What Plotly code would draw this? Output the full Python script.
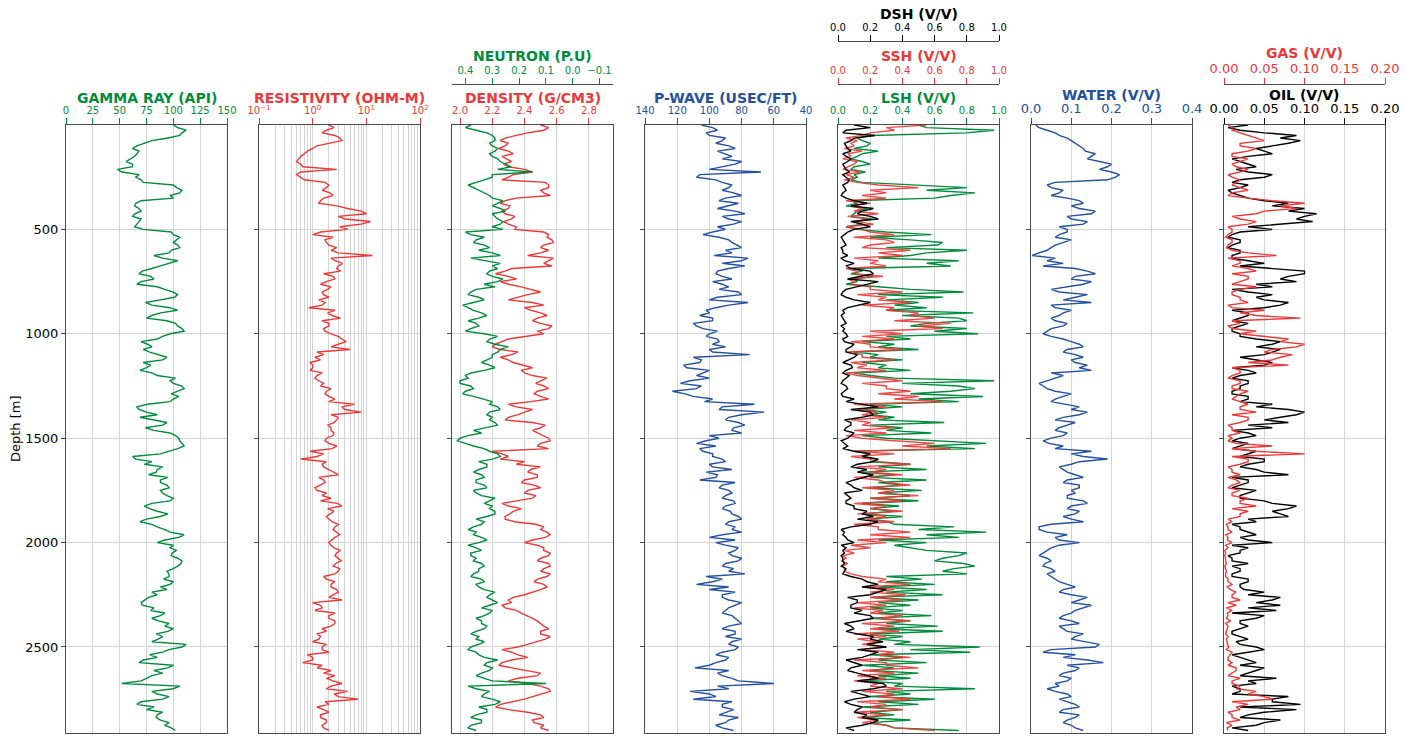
import plotly.graph_objects as go

# ---------------- data ----------------
DEPTH = list(range(0, 2901, 25))                 # main 25 m samples
DEPTH_MID = [d + 12.5 for d in DEPTH[:-1]]       # half-step samples

GR = [100, 112, 106, 80, 66, 68, 64, 56, 62, 52, 65, 72, 103, 106, 100, 65, 68, 64, 70, 66, 72,
      100, 103, 104, 98, 82, 104, 88, 71, 79, 70, 85, 100, 101, 74, 97, 88, 75, 102, 108, 97,
      85, 76, 72, 85, 90, 79, 69, 85, 97, 108, 104, 105, 97, 66, 75, 69, 94, 74, 97, 105,
      108, 104, 88, 65, 73, 85, 77, 88, 94, 88, 94, 97, 73, 85, 88, 69, 85, 97, 105, 85,
      97, 99, 104, 107, 100, 96, 91, 97, 94, 85, 74, 71, 79, 88, 86, 92, 95, 90, 80, 108,
      90, 85, 68, 95, 90, 75, 52, 100, 85, 90, 66, 75, 85, 88, 92, 102]
GR_MID = [104, 108, 95, 72, 62, 66, 60, 62, 48, 68, 70, 100, 108, 97, 70, 64, 70, 62, 68, 64,
          98, 106, 100, 106, 96, 90, 97, 80, 68, 82, 66, 92, 104, 88, 80, 104, 80, 94, 104, 110,
          90, 70, 80, 78, 94, 72, 75, 80, 102, 100, 110, 98, 100, 76, 68, 85, 80, 90, 82, 102,
          106, 110, 96, 62, 80, 90, 84, 95, 88, 96, 90, 100, 80, 78, 95, 75, 80, 92, 110, 92,
          100, 103, 98, 108, 104, 94, 96, 100, 88, 80, 77, 70, 82, 92, 80, 96, 100, 84, 86, 112,
          96, 78, 72, 100, 82, 80, 70, 106, 80, 96, 70, 82, 90, 84, 96, 98]

RES = [2.0, 1.8, 2.6, 3.5, 1.2, 0.8, 0.6, 0.5, 0.65, 0.6, 0.6, 1.7, 1.8, 2.1, 1.6, 1.3, 4.5, 10, 4, 8, 4.5,
       1.0, 1.7, 2.0, 2.2, 13, 2.6, 3.0, 3.3, 2.4, 1.8, 2.2, 1.5, 2.0, 1.7, 0.85, 1.9, 3.3, 2.0, 1.6, 2.2,
       3.5, 3.0, 5.0, 1.6, 1.4, 1.0, 0.9, 1.2, 1.3, 1.4, 1.8, 2.0, 2.0, 3.5, 8.0, 3.0, 2.5, 2.2, 2.5, 1.8,
       2.0, 2.3, 1.6, 0.6, 1.5, 2.0, 3.0, 1.6, 1.4, 1.2, 1.5, 1.4, 3.5, 2.5, 1.8, 2.3, 2.6, 2.8, 2.6, 2.0,
       2.5, 2.8, 3.0, 2.7, 3.2, 2.6, 1.8, 2.2, 2.8, 2.4, 3.5, 1.4, 1.1, 2.0, 2.6, 2.2, 1.8, 1.4, 1.0, 1.5,
       2.0, 1.0, 0.65, 1.2, 1.6, 1.8, 3.5, 1.8, 2.5, 7.0, 2.0, 1.6, 1.4, 1.8, 1.5, 2.0]
RES_MID = [2.5, 1.5, 3.2, 2.0, 1.0, 0.7, 0.55, 0.6, 2.8, 0.5, 0.7, 2.0, 1.5, 2.4, 1.4, 2.8, 8, 3, 12, 3.2,
           1.4, 2.4, 1.8, 2.8, 3.0, 2.2, 3.6, 2.8, 1.6, 2.6, 1.4, 1.9, 1.6, 1.3, 1.5, 2.6, 2.3, 1.5, 2.0, 1.7,
           3.0, 4.2, 2.2, 1.2, 1.1, 0.9, 1.0, 1.5, 1.1, 1.6, 2.2, 1.7, 2.6, 6.0, 4.0, 2.2, 2.8, 1.9, 2.2, 2.4,
           1.7, 2.8, 0.9, 1.2, 1.8, 1.6, 2.4, 1.3, 1.7, 1.1, 1.8, 2.2, 2.9, 1.9, 2.1, 2.0, 3.0, 2.4, 3.2, 2.3,
           2.2, 3.3, 2.6, 3.4, 2.4, 3.0, 1.6, 2.6, 2.2, 3.0, 2.0, 1.0, 1.5, 2.6, 2.0, 2.6, 1.5, 1.2, 1.3, 1.8,
           1.5, 0.8, 1.0, 1.5, 2.2, 2.6, 2.4, 2.2, 4.5, 3.0, 1.7, 1.2, 2.0, 1.4, 1.8, 1.6]

NPHI = [0.38, 0.36, 0.30, 0.29, 0.30, 0.29, 0.30, 0.27, 0.23, 0.15, 0.30, 0.36, 0.37, 0.33, 0.30, 0.28, 0.27, 0.30, 0.28, 0.27, 0.26,
        0.38, 0.36, 0.33, 0.35, 0.27, 0.33, 0.30, 0.31, 0.30, 0.28, 0.29, 0.38, 0.35, 0.37, 0.39, 0.34, 0.35, 0.36, 0.38, 0.33,
        0.31, 0.29, 0.27, 0.30, 0.32, 0.31, 0.33, 0.40, 0.42, 0.38, 0.40, 0.37, 0.30, 0.28, 0.31, 0.30, 0.29, 0.32, 0.34, 0.42,
        0.40, 0.33, 0.28, 0.30, 0.32, 0.35, 0.34, 0.36, 0.33, 0.37, 0.34, 0.31, 0.30, 0.29, 0.32, 0.33, 0.37, 0.36, 0.34, 0.35,
        0.36, 0.38, 0.36, 0.34, 0.35, 0.37, 0.34, 0.36, 0.33, 0.31, 0.30, 0.31, 0.30, 0.33, 0.34, 0.32, 0.36, 0.35, 0.33, 0.38,
        0.36, 0.33, 0.32, 0.30, 0.34, 0.33, 0.10, 0.36, 0.33, 0.30, 0.29, 0.32, 0.36, 0.34, 0.38, 0.36]
NPHI_MID = [0.40, 0.32, 0.29, 0.31, 0.28, 0.31, 0.28, 0.25, 0.28, 0.30, 0.33, 0.39, 0.35, 0.31, 0.26, 0.30, 0.25, 0.29, 0.26, 0.30,
            0.40, 0.33, 0.37, 0.31, 0.30, 0.38, 0.27, 0.28, 0.32, 0.26, 0.33, 0.36, 0.39, 0.33, 0.41, 0.37, 0.32, 0.39, 0.35, 0.40,
            0.28, 0.32, 0.24, 0.28, 0.30, 0.34, 0.29, 0.38, 0.39, 0.42, 0.37, 0.41, 0.33, 0.31, 0.27, 0.32, 0.31, 0.28, 0.37, 0.39,
            0.43, 0.37, 0.31, 0.27, 0.35, 0.32, 0.37, 0.33, 0.36, 0.32, 0.36, 0.29, 0.33, 0.31, 0.29, 0.36, 0.34, 0.39, 0.37, 0.32,
            0.39, 0.34, 0.38, 0.37, 0.33, 0.35, 0.38, 0.33, 0.35, 0.29, 0.32, 0.28, 0.34, 0.31, 0.36, 0.34, 0.33, 0.38, 0.36, 0.35,
            0.39, 0.35, 0.28, 0.33, 0.31, 0.36, 0.30, 0.39, 0.31, 0.34, 0.27, 0.35, 0.32, 0.38, 0.34, 0.39]

RHOB = [2.50, 2.52, 2.35, 2.25, 2.28, 2.30, 2.26, 2.32, 2.30, 2.45, 2.30, 2.53, 2.55, 2.52, 2.35, 2.25, 2.30, 2.28, 2.32, 2.30, 2.34,
        2.55, 2.57, 2.52, 2.55, 2.42, 2.55, 2.57, 2.28, 2.30, 2.25, 2.38, 2.50, 2.35, 2.45, 2.40, 2.50, 2.48, 2.50, 2.55, 2.52,
        2.30, 2.22, 2.25, 2.32, 2.30, 2.40, 2.38, 2.45, 2.50, 2.52, 2.48, 2.50, 2.44, 2.35, 2.40, 2.30, 2.45, 2.50, 2.48, 2.55,
        2.50, 2.55, 2.26, 2.25, 2.35, 2.44, 2.48, 2.40, 2.46, 2.42, 2.47, 2.36, 2.30, 2.33, 2.28, 2.34, 2.52, 2.54, 2.53, 2.40,
        2.52, 2.56, 2.50, 2.55, 2.52, 2.56, 2.48, 2.52, 2.50, 2.40, 2.30, 2.26, 2.35, 2.42, 2.48, 2.52, 2.50, 2.56, 2.48, 2.36,
        2.32, 2.42, 2.26, 2.32, 2.50, 2.36, 2.42, 2.55, 2.50, 2.40, 2.25, 2.30, 2.50, 2.45, 2.52, 2.55]
RHOB_MID = [2.55, 2.42, 2.28, 2.30, 2.24, 2.33, 2.29, 2.27, 2.40, 2.33, 2.26, 2.55, 2.50, 2.56, 2.28, 2.31, 2.26, 2.34, 2.27, 2.35,
            2.52, 2.54, 2.58, 2.50, 2.50, 2.58, 2.52, 2.32, 2.22, 2.35, 2.30, 2.45, 2.42, 2.30, 2.52, 2.44, 2.54, 2.45, 2.57, 2.48,
            2.40, 2.26, 2.20, 2.36, 2.25, 2.33, 2.45, 2.40, 2.54, 2.47, 2.55, 2.46, 2.55, 2.30, 2.45, 2.36, 2.28, 2.53, 2.45, 2.52,
            2.56, 2.48, 2.20, 2.30, 2.40, 2.50, 2.42, 2.48, 2.38, 2.50, 2.40, 2.45, 2.26, 2.38, 2.31, 2.28, 2.47, 2.50, 2.56, 2.45,
            2.48, 2.52, 2.55, 2.48, 2.56, 2.50, 2.54, 2.46, 2.54, 2.45, 2.33, 2.32, 2.28, 2.38, 2.45, 2.50, 2.55, 2.50, 2.53, 2.42,
            2.26, 2.36, 2.32, 2.24, 2.40, 2.48, 2.30, 2.50, 2.56, 2.45, 2.32, 2.22, 2.42, 2.52, 2.46, 2.50]

DT = [105, 95, 100, 92, 88, 95, 86, 80, 92, 68, 108, 92, 88, 85, 90, 82, 95, 78, 88, 85, 90,
      104, 88, 83, 90, 97, 80, 78, 95, 92, 98, 88, 82, 95, 76, 96, 100, 98, 110, 104, 100,
      95, 98, 100, 75, 105, 116, 100, 108, 112, 105, 123, 110, 103, 92, 66, 88, 82, 85, 80, 94,
      108, 106, 98, 92, 100, 86, 95, 106, 92, 88, 90, 85, 90, 87, 82, 88, 84, 80, 100, 96,
      82, 88, 80, 90, 85, 78, 92, 108, 100, 92, 88, 84, 90, 86, 82, 88, 84, 90, 86, 82,
      92, 88, 96, 109, 95, 86, 60, 88, 100, 110, 92, 85, 94, 88, 96, 85]
DT_MID = [98, 102, 90, 96, 84, 90, 92, 84, 100, 106, 96, 86, 92, 80, 94, 88, 84, 92, 80, 95,
          98, 94, 86, 80, 86, 76, 92, 88, 96, 86, 92, 94, 80, 100, 88, 102, 106, 98, 108, 95,
          102, 94, 90, 98, 110, 106, 114, 104, 100, 118, 108, 115, 98, 72, 94, 80, 90, 78, 86, 100,
          102, 96, 104, 98, 90, 98, 102, 96, 84, 94, 86, 92, 84, 92, 86, 80, 90, 86, 92, 84,
          90, 84, 86, 82, 92, 88, 102, 98, 88, 84, 92, 80, 88, 92, 84, 80, 92, 84, 80, 88,
          84, 96, 90, 100, 88, 92, 82, 95, 112, 96, 86, 92, 90, 82, 90, 92]

WATER = [0.012, 0.04, 0.07, 0.10, 0.12, 0.135, 0.15, 0.17, 0.19, 0.20, 0.21, 0.06, 0.05, 0.07, 0.09, 0.13, 0.12, 0.15, 0.10, 0.13, 0.09,
         0.07, 0.10, 0.06, 0.04, 0.003, 0.04, 0.03, 0.14, 0.11, 0.15, 0.09, 0.07, 0.11, 0.15, 0.06, 0.08, 0.05, 0.09, 0.05, 0.03,
         0.08, 0.12, 0.09, 0.11, 0.10, 0.14, 0.15, 0.08, 0.04, 0.03, 0.06, 0.08, 0.05, 0.12, 0.14, 0.08, 0.11, 0.07, 0.09, 0.05,
         0.045, 0.06, 0.10, 0.19, 0.10, 0.08, 0.11, 0.09, 0.12, 0.10, 0.09, 0.13, 0.10, 0.12, 0.08, 0.13, 0.02, 0.04, 0.06, 0.12,
         0.05, 0.03, 0.04, 0.035, 0.05, 0.04, 0.06, 0.09, 0.08, 0.10, 0.12, 0.15, 0.11, 0.08, 0.10, 0.07, 0.09, 0.11, 0.14, 0.16,
         0.03, 0.08, 0.18, 0.12, 0.08, 0.10, 0.06, 0.04, 0.09, 0.07, 0.11, 0.08, 0.12, 0.09, 0.10, 0.13]
WATER_MID = [0.02, 0.06, 0.09, 0.11, 0.13, 0.16, 0.14, 0.20, 0.17, 0.22, 0.19, 0.04, 0.08, 0.05, 0.12, 0.10, 0.16, 0.09, 0.14, 0.07,
             0.09, 0.06, 0.08, 0.05, 0.02, 0.06, 0.08, 0.11, 0.16, 0.10, 0.13, 0.05, 0.14, 0.08, 0.05, 0.10, 0.07, 0.06, 0.08, 0.04,
             0.05, 0.10, 0.13, 0.08, 0.13, 0.11, 0.12, 0.05, 0.06, 0.02, 0.04, 0.10, 0.06, 0.09, 0.10, 0.12, 0.06, 0.09, 0.06, 0.08,
             0.03, 0.08, 0.15, 0.13, 0.12, 0.07, 0.09, 0.13, 0.08, 0.12, 0.11, 0.09, 0.14, 0.09, 0.11, 0.10, 0.05, 0.02, 0.09, 0.07,
             0.07, 0.04, 0.02, 0.05, 0.03, 0.06, 0.05, 0.07, 0.11, 0.07, 0.14, 0.10, 0.13, 0.10, 0.07, 0.12, 0.08, 0.13, 0.10, 0.17,
             0.05, 0.11, 0.14, 0.09, 0.11, 0.07, 0.09, 0.07, 0.06, 0.10, 0.09, 0.12, 0.07, 0.11, 0.08, 0.11]

LSH = [0.50, 0.97, 0.20, 0.15, 0.18, 0.25, 0.12, 0.15, 0.10, 0.17, 0.12, 0.15, 0.80, 0.85, 0.60, 0.12, 0.18, 0.10, 0.22, 0.15, 0.12,
       0.58, 0.45, 0.62, 0.80, 0.45, 0.75, 0.70, 0.15, 0.22, 0.12, 0.25, 0.78, 0.65, 0.50, 0.55, 0.84, 0.75, 0.55, 0.80, 0.87,
       0.45, 0.35, 0.50, 0.25, 0.40, 0.30, 0.45, 0.20, 0.97, 0.75, 0.70, 0.90, 0.75, 0.40, 0.30, 0.35, 0.66, 0.40, 0.58, 0.30,
       0.92, 0.85, 0.20, 0.25, 0.45, 0.55, 0.35, 0.55, 0.40, 0.52, 0.45, 0.50, 0.38, 0.35, 0.40, 0.30, 0.72, 0.92, 0.75, 0.55,
       0.45, 0.80, 0.65, 0.78, 0.72, 0.80, 0.52, 0.60, 0.55, 0.65, 0.50, 0.45, 0.40, 0.58, 0.45, 0.62, 0.65, 0.40, 0.45, 0.88,
       0.82, 0.40, 0.55, 0.35, 0.50, 0.45, 0.40, 0.85, 0.45, 0.60, 0.50, 0.40, 0.35, 0.45, 0.30, 0.75]
LSH_MID = [0.55, 0.80, 0.12, 0.20, 0.10, 0.15, 0.08, 0.20, 0.08, 0.10, 0.08, 0.45, 0.55, 0.70, 0.08, 0.05, 0.12, 0.08, 0.10, 0.05,
           0.30, 0.20, 0.65, 0.30, 0.55, 0.25, 0.55, 0.10, 0.08, 0.10, 0.05, 0.45, 0.25, 0.30, 0.35, 0.30, 0.40, 0.80, 0.45, 0.60,
           0.30, 0.15, 0.25, 0.10, 0.20, 0.15, 0.25, 0.10, 0.35, 0.40, 0.85, 0.45, 0.50, 0.20, 0.15, 0.20, 0.25, 0.20, 0.30, 0.15,
           0.60, 0.55, 0.10, 0.15, 0.20, 0.25, 0.15, 0.20, 0.25, 0.20, 0.25, 0.20, 0.15, 0.20, 0.15, 0.20, 0.35, 0.50, 0.55, 0.25,
           0.35, 0.55, 0.75, 0.60, 0.85, 0.65, 0.30, 0.30, 0.25, 0.30, 0.20, 0.25, 0.20, 0.25, 0.20, 0.30, 0.25, 0.20, 0.25, 0.35,
           0.45, 0.20, 0.25, 0.15, 0.20, 0.25, 0.15, 0.35, 0.30, 0.20, 0.25, 0.15, 0.20, 0.15, 0.20, 0.35]

SSH = [0.55, 0.35, 0.15, 0.12, 0.10, 0.15, 0.08, 0.12, 0.06, 0.14, 0.10, 0.12, 0.50, 0.30, 0.30, 0.20, 0.15, 0.25, 0.18, 0.22, 0.15,
       0.35, 0.30, 0.20, 0.45, 0.40, 0.25, 0.30, 0.12, 0.28, 0.10, 0.20, 0.40, 0.30, 0.45, 0.35, 0.50, 0.60, 0.70, 0.65, 0.40,
       0.35, 0.20, 0.40, 0.15, 0.35, 0.18, 0.30, 0.12, 0.40, 0.30, 0.45, 0.50, 0.65, 0.30, 0.25, 0.30, 0.20, 0.35, 0.30, 0.15,
       0.60, 0.70, 0.35, 0.20, 0.45, 0.30, 0.40, 0.25, 0.45, 0.35, 0.50, 0.40, 0.30, 0.40, 0.30, 0.35, 0.25, 0.45, 0.45, 0.30,
       0.20, 0.10, 0.05, 0.06, 0.04, 0.08, 0.30, 0.45, 0.35, 0.42, 0.40, 0.30, 0.28, 0.40, 0.45, 0.35, 0.38, 0.30, 0.25, 0.30,
       0.35, 0.45, 0.30, 0.50, 0.35, 0.30, 0.25, 0.40, 0.35, 0.45, 0.30, 0.40, 0.30, 0.25, 0.30, 0.60]
SSH_MID = [0.30, 0.20, 0.05, 0.08, 0.04, 0.06, 0.03, 0.10, 0.03, 0.05, 0.04, 0.25, 0.20, 0.15, 0.05, 0.08, 0.10, 0.06, 0.12, 0.05,
           0.20, 0.10, 0.35, 0.15, 0.25, 0.10, 0.20, 0.05, 0.10, 0.06, 0.08, 0.20, 0.12, 0.25, 0.15, 0.30, 0.45, 0.35, 0.50, 0.20,
           0.15, 0.08, 0.20, 0.05, 0.15, 0.08, 0.12, 0.05, 0.25, 0.15, 0.30, 0.25, 0.35, 0.10, 0.12, 0.15, 0.08, 0.15, 0.10, 0.05,
           0.35, 0.40, 0.10, 0.08, 0.25, 0.12, 0.20, 0.10, 0.30, 0.15, 0.25, 0.20, 0.10, 0.20, 0.12, 0.18, 0.10, 0.25, 0.20, 0.12,
           0.08, 0.04, 0.03, 0.02, 0.03, 0.04, 0.15, 0.25, 0.15, 0.20, 0.20, 0.12, 0.10, 0.20, 0.25, 0.15, 0.20, 0.10, 0.12, 0.15,
           0.15, 0.25, 0.10, 0.30, 0.15, 0.12, 0.10, 0.20, 0.15, 0.25, 0.12, 0.20, 0.10, 0.12, 0.15, 0.35]

DSH = [0.10, 0.05, 0.23, 0.08, 0.05, 0.08, 0.05, 0.06, 0.04, 0.07, 0.05, 0.06, 0.04, 0.03, 0.05, 0.18, 0.22, 0.12, 0.25, 0.15, 0.10,
       0.04, 0.03, 0.05, 0.03, 0.06, 0.04, 0.05, 0.20, 0.15, 0.25, 0.12, 0.03, 0.05, 0.20, 0.06, 0.04, 0.03, 0.05, 0.04, 0.05,
       0.03, 0.10, 0.05, 0.12, 0.06, 0.08, 0.05, 0.07, 0.03, 0.05, 0.04, 0.03, 0.05, 0.25, 0.20, 0.15, 0.08, 0.05, 0.10, 0.06,
       0.04, 0.03, 0.20, 0.25, 0.12, 0.18, 0.22, 0.10, 0.08, 0.15, 0.06, 0.05, 0.10, 0.18, 0.22, 0.25, 0.08, 0.04, 0.05, 0.10,
       0.05, 0.04, 0.03, 0.04, 0.05, 0.03, 0.15, 0.25, 0.30, 0.20, 0.12, 0.08, 0.15, 0.20, 0.12, 0.08, 0.05, 0.22, 0.28, 0.30,
       0.25, 0.15, 0.10, 0.08, 0.12, 0.25, 0.28, 0.22, 0.15, 0.10, 0.08, 0.12, 0.18, 0.25, 0.15, 0.10]
DSH_MID = [0.20, 0.03, 0.10, 0.04, 0.06, 0.03, 0.08, 0.03, 0.05, 0.03, 0.07, 0.03, 0.05, 0.02, 0.10, 0.08, 0.15, 0.20, 0.08, 0.20,
           0.06, 0.02, 0.04, 0.02, 0.03, 0.02, 0.10, 0.08, 0.22, 0.06, 0.18, 0.05, 0.02, 0.10, 0.12, 0.03, 0.02, 0.04, 0.02, 0.03,
           0.06, 0.04, 0.08, 0.05, 0.10, 0.03, 0.09, 0.03, 0.05, 0.02, 0.06, 0.02, 0.10, 0.15, 0.08, 0.22, 0.04, 0.08, 0.04, 0.08,
           0.02, 0.06, 0.10, 0.15, 0.22, 0.08, 0.12, 0.15, 0.05, 0.10, 0.04, 0.08, 0.05, 0.10, 0.15, 0.12, 0.20, 0.02, 0.03, 0.06,
           0.02, 0.03, 0.02, 0.03, 0.02, 0.04, 0.08, 0.18, 0.15, 0.25, 0.06, 0.12, 0.08, 0.10, 0.22, 0.04, 0.10, 0.12, 0.20, 0.18,
           0.12, 0.20, 0.05, 0.15, 0.06, 0.18, 0.12, 0.30, 0.08, 0.20, 0.04, 0.15, 0.10, 0.15, 0.22, 0.05]

OIL = [0.03, 0.02, 0.09, 0.095, 0.06, 0.05, 0.03, 0.02, 0.04, 0.03, 0.05, 0.01, 0.02, 0.01, 0.03, 0.08, 0.10, 0.115, 0.09, 0.07, 0.06,
       0.01, 0.02, 0.01, 0.02, 0.01, 0.03, 0.02, 0.10, 0.08, 0.09, 0.06, 0.03, 0.04, 0.08, 0.05, 0.03, 0.02, 0.03, 0.01, 0.02,
       0.04, 0.06, 0.07, 0.05, 0.04, 0.05, 0.03, 0.02, 0.03, 0.02, 0.01, 0.03, 0.02, 0.04, 0.10, 0.07, 0.08, 0.06, 0.03, 0.02,
       0.03, 0.01, 0.03, 0.05, 0.03, 0.04, 0.08, 0.03, 0.02, 0.04, 0.02, 0.05, 0.09, 0.06, 0.08, 0.04, 0.02, 0.03, 0.02, 0.06,
       0.03, 0.02, 0.01, 0.03, 0.02, 0.01, 0.03, 0.02, 0.025, 0.03, 0.06, 0.07, 0.065, 0.05, 0.02, 0.03, 0.01, 0.02, 0.015, 0.04,
       0.03, 0.02, 0.04, 0.05, 0.03, 0.065, 0.04, 0.02, 0.01, 0.06, 0.095, 0.09, 0.03, 0.07, 0.04, 0.03]
OIL_MID = [0.005, 0.05, 0.07, 0.08, 0.04, 0.06, 0.01, 0.03, 0.015, 0.06, 0.02, 0.03, 0.005, 0.02, 0.05, 0.06, 0.08, 0.10, 0.11, 0.03,
           0.02, 0.005, 0.02, 0.005, 0.02, 0.01, 0.05, 0.06, 0.10, 0.07, 0.04, 0.01, 0.06, 0.05, 0.07, 0.01, 0.03, 0.01, 0.02, 0.01,
           0.02, 0.07, 0.04, 0.06, 0.02, 0.06, 0.01, 0.04, 0.01, 0.03, 0.02, 0.01, 0.03, 0.06, 0.08, 0.09, 0.05, 0.03, 0.01, 0.04,
           0.01, 0.02, 0.04, 0.02, 0.05, 0.02, 0.05, 0.01, 0.03, 0.01, 0.03, 0.02, 0.06, 0.08, 0.07, 0.03, 0.01, 0.02, 0.04, 0.03,
           0.01, 0.02, 0.005, 0.01, 0.01, 0.02, 0.01, 0.03, 0.02, 0.05, 0.07, 0.04, 0.03, 0.01, 0.04, 0.02, 0.02, 0.01, 0.03, 0.02,
           0.05, 0.01, 0.03, 0.02, 0.04, 0.02, 0.03, 0.01, 0.02, 0.08, 0.06, 0.02, 0.05, 0.02, 0.05, 0.01]

GAS = [0.005, 0.01, 0.03, 0.05, 0.02, 0.03, 0.01, 0.02, 0.015, 0.02, 0.01, 0.015, 0.02, 0.01, 0.03, 0.10, 0.09, 0.04, 0.02, 0.03, 0.01,
       0.005, 0.01, 0.005, 0.01, 0.065, 0.02, 0.01, 0.04, 0.03, 0.02, 0.04, 0.01, 0.02, 0.03, 0.01, 0.02, 0.095, 0.02, 0.01, 0.02,
       0.08, 0.10, 0.06, 0.085, 0.06, 0.08, 0.02, 0.01, 0.02, 0.01, 0.03, 0.015, 0.02, 0.02, 0.04, 0.03, 0.02, 0.01, 0.02, 0.01,
       0.015, 0.01, 0.10, 0.03, 0.02, 0.01, 0.02, 0.015, 0.01, 0.02, 0.01, 0.02, 0.04, 0.03, 0.02, 0.01, 0.005, 0.01, 0.005, 0.01,
       0.005, 0.002, 0.002, 0.003, 0.002, 0.002, 0.005, 0.01, 0.008, 0.01, 0.02, 0.015, 0.01, 0.005, 0.008, 0.005, 0.003, 0.005, 0.004, 0.006,
       0.01, 0.005, 0.01, 0.015, 0.01, 0.02, 0.01, 0.015, 0.03, 0.06, 0.03, 0.02, 0.01, 0.02, 0.01, 0.005]
GAS_MID = [0.01, 0.02, 0.04, 0.02, 0.04, 0.01, 0.03, 0.01, 0.03, 0.005, 0.02, 0.01, 0.03, 0.005, 0.06, 0.07, 0.05, 0.01, 0.04, 0.005,
           0.01, 0.002, 0.01, 0.003, 0.03, 0.005, 0.02, 0.03, 0.01, 0.03, 0.01, 0.02, 0.01, 0.02, 0.005, 0.05, 0.04, 0.01, 0.005, 0.04,
           0.05, 0.07, 0.09, 0.05, 0.07, 0.03, 0.01, 0.02, 0.005, 0.02, 0.01, 0.02, 0.01, 0.03, 0.02, 0.01, 0.03, 0.005, 0.01, 0.005,
           0.005, 0.06, 0.04, 0.01, 0.03, 0.005, 0.01, 0.005, 0.02, 0.005, 0.01, 0.03, 0.02, 0.01, 0.02, 0.005, 0.003, 0.005, 0.002, 0.004,
           0.002, 0.001, 0.001, 0.002, 0.001, 0.003, 0.002, 0.005, 0.004, 0.015, 0.01, 0.005, 0.003, 0.004, 0.003, 0.002, 0.004, 0.002, 0.003, 0.004,
           0.003, 0.008, 0.005, 0.005, 0.015, 0.005, 0.01, 0.02, 0.04, 0.05, 0.01, 0.015, 0.005, 0.01, 0.003, 0.004]

DEPTH_TICKS = [500, 1000, 1500, 2000, 2500]

# ---------------- styling / layout ----------------
W, H = 1414, 736
LEFTS = [66, 259, 452, 645, 838, 1031, 1224]
TW = 161
Y_TOP, Y_BOT = 125, 733
GREEN = "#008c3c"
RED = "#ee3838"
BLUE = "#2350a0"
BLACK = "#000000"
GRID = "#d4d4d4"
FRAME = "#4a4a4a"
FONT = "DejaVu Sans"


def fx(px):
    return px / W


def fy(py):
    return 1 - py / H


def merge(vals_a, vals_b):
    pts = sorted(list(zip(DEPTH, vals_a)) + list(zip(DEPTH_MID, vals_b)))
    return [p[1] for p in pts], [p[0] for p in pts]


fig = go.Figure()


def add(vals, mids, axis_x, axis_y, color, width=1.4, opacity=1.0):
    x, y = merge(vals, mids)
    fig.add_trace(go.Scatter(x=x, y=y, mode="lines", xaxis=axis_x, yaxis=axis_y,
                             line=dict(color=color, width=width), opacity=opacity,
                             hoverinfo="skip", showlegend=False))


add(GR, GR_MID, "x", "y", GREEN)
add(RES, RES_MID, "x2", "y2", RED)
add(RHOB, RHOB_MID, "x3", "y3", RED)
add(NPHI, NPHI_MID, "x8", "y3", GREEN)
add(DT, DT_MID, "x4", "y4", BLUE)
add(LSH, LSH_MID, "x5", "y5", GREEN)
add(SSH, SSH_MID, "x9", "y5", RED, 1.4, 0.92)
add(DSH, DSH_MID, "x10", "y5", BLACK)
add(WATER, WATER_MID, "x6", "y6", BLUE)
add(OIL, OIL_MID, "x7", "y7", BLACK)
add(GAS, GAS_MID, "x11", "y7", RED)

layout = dict(width=W, height=H, margin=dict(l=0, r=0, t=0, b=0, pad=0),
              paper_bgcolor="white", plot_bgcolor="white", showlegend=False,
              font=dict(family=FONT, size=11, color="black"))


def primary(i, rng, tv, tt, color, fsize=10, typ="linear"):
    return dict(domain=[fx(LEFTS[i]), fx(LEFTS[i] + TW)], anchor="y" if i == 0 else f"y{i+1}",
                side="top", range=rng, tickmode="array", tickvals=tv, ticktext=tt,
                ticks="outside", ticklen=6, tickwidth=1, tickcolor=color,
                tickfont=dict(color=color, size=fsize, family=FONT),
                showline=True, linecolor=FRAME, linewidth=1, mirror=True,
                showgrid=True, gridcolor=GRID, gridwidth=1, zeroline=False, type=typ,
                automargin=False)


def secondary(over, pos_px, rng, tv, tt, color, fsize=10):
    return dict(overlaying=over, anchor="free", position=fy(pos_px), side="top",
                range=rng, tickmode="array", tickvals=tv, ticktext=tt,
                ticks="outside", ticklen=6, tickwidth=1, tickcolor=color,
                tickfont=dict(color=color, size=fsize, family=FONT),
                showline=True, linecolor=FRAME, linewidth=1,
                showgrid=False, zeroline=False, automargin=False)


frac1 = [0.0, 0.2, 0.4, 0.6, 0.8, 1.0]
frac1_t = ["0.0", "0.2", "0.4", "0.6", "0.8", "1.0"]

layout["xaxis"] = primary(0, [0, 150], [0, 25, 50, 75, 100, 125, 150],
                          ["0", "25", "50", "75", "100", "125", "150"], GREEN)
res_ax = primary(1, [-1, 2], [0.1, 1, 10, 100],
                 ["10<sup>−1</sup>", "10<sup>0</sup>", "10<sup>1</sup>", "10<sup>2</sup>"],
                 RED, typ="log")
res_ax["minor"] = dict(tickvals=[m * 10 ** e for e in (-1, 0, 1) for m in range(2, 10)],
                       showgrid=True, gridcolor=GRID, gridwidth=1, ticks="")
layout["xaxis2"] = res_ax
layout["xaxis3"] = primary(2, [1.95, 2.95], [2.0, 2.2, 2.4, 2.6, 2.8],
                           ["2.0", "2.2", "2.4", "2.6", "2.8"], RED)
layout["xaxis4"] = primary(3, [140, 40], [140, 120, 100, 80, 60, 40],
                           ["140", "120", "100", "80", "60", "40"], BLUE)
layout["xaxis5"] = primary(4, [0, 1], frac1, frac1_t, GREEN)
layout["xaxis6"] = primary(5, [0, 0.4], [0, 0.1, 0.2, 0.3, 0.4],
                           ["0.0", "0.1", "0.2", "0.3", "0.4"], BLUE, fsize=13)
layout["xaxis7"] = primary(6, [0, 0.2], [0, 0.05, 0.1, 0.15, 0.2],
                           ["0.00", "0.05", "0.10", "0.15", "0.20"], BLACK, fsize=13)

layout["xaxis8"] = secondary("x3", 84, [0.45, -0.15], [0.4, 0.3, 0.2, 0.1, 0.0, -0.1],
                             ["0.4", "0.3", "0.2", "0.1", "0.0", "−0.1"], GREEN)
layout["xaxis9"] = secondary("x5", 84, [0, 1], frac1, frac1_t, RED)
layout["xaxis10"] = secondary("x5", 41, [0, 1], frac1, frac1_t, BLACK)
layout["xaxis11"] = secondary("x7", 84, [0, 0.2], [0, 0.05, 0.1, 0.15, 0.2],
                              ["0.00", "0.05", "0.10", "0.15", "0.20"], RED, fsize=13)

for i in range(7):
    key = "yaxis" if i == 0 else f"yaxis{i+1}"
    layout[key] = dict(domain=[fy(Y_BOT), fy(Y_TOP)], anchor="x" if i == 0 else f"x{i+1}",
                       range=[2912, 0], tickmode="array", tickvals=DEPTH_TICKS,
                       ticktext=[str(v) for v in DEPTH_TICKS],
                       showticklabels=(i == 0), ticks="outside", ticklen=4,
                       tickcolor=FRAME, tickfont=dict(size=13, color="black", family=FONT),
                       showline=True, linecolor=FRAME, linewidth=1, mirror=True,
                       showgrid=True, gridcolor=GRID, gridwidth=1, zeroline=False,
                       automargin=False)

centers = [l + TW / 2 for l in LEFTS]
titles = [
    ("GAMMA RAY (API)", centers[0], 98, GREEN),
    ("RESISTIVITY (OHM-M)", centers[1], 98, RED),
    ("DENSITY (G/CM3)", centers[2], 98, RED),
    ("NEUTRON (P.U)", centers[2], 56, GREEN),
    ("P-WAVE (USEC/FT)", centers[3], 98, BLUE),
    ("LSH (V/V)", centers[4], 98, GREEN),
    ("SSH (V/V)", centers[4], 56, RED),
    ("DSH (V/V)", centers[4], 14, BLACK),
    ("WATER (V/V)", centers[5], 95, BLUE),
    ("OIL (V/V)", centers[6], 95, BLACK),
    ("GAS (V/V)", centers[6], 53, RED),
]
ann = []
for txt, cx, cy, col in titles:
    ann.append(dict(text=f"<b>{txt}</b>", x=fx(cx), y=fy(cy), xref="paper", yref="paper",
                    xanchor="center", yanchor="middle", showarrow=False,
                    font=dict(family=FONT, size=14, color=col)))
ann.append(dict(text="Depth [m]", x=fx(16), y=fy((Y_TOP + Y_BOT) / 2), xref="paper", yref="paper",
                xanchor="center", yanchor="middle", showarrow=False, textangle=-90,
                font=dict(family=FONT, size=13, color="black")))
layout["annotations"] = ann

fig.update_layout(**layout)
fig.write_html("out.html", config={"displayModeBar": False},
               post_script="document.body.style.margin='0';")
